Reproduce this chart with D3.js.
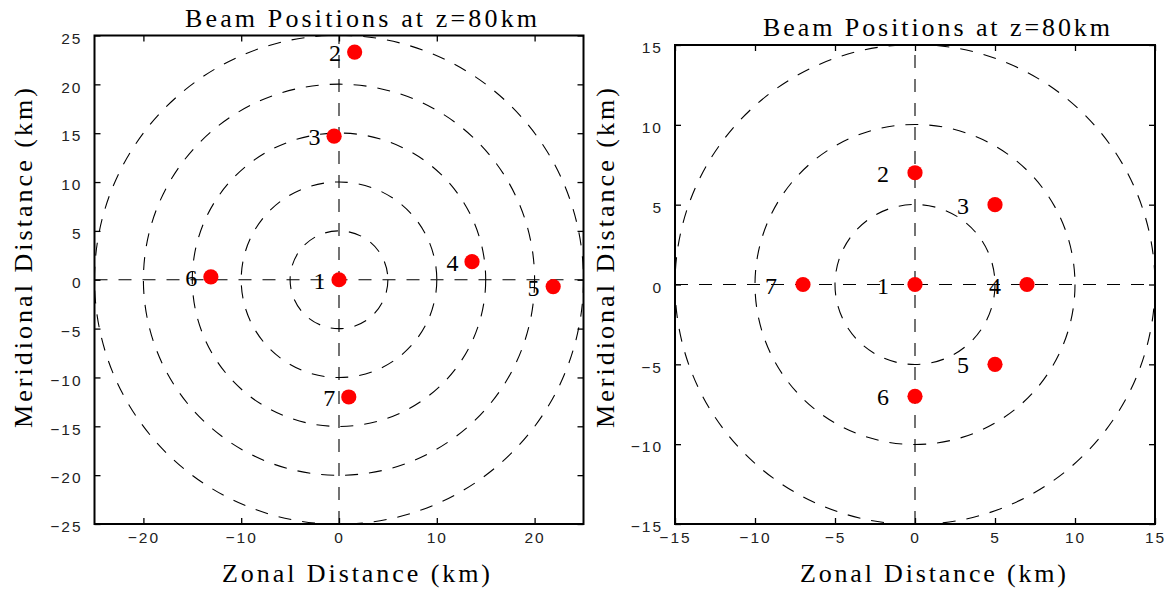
<!DOCTYPE html>
<html><head><meta charset="utf-8">
<script src="https://cdn.jsdelivr.net/npm/d3@7"></script>
<style>
body{margin:0;background:#fff;}
svg{display:block;}
</style></head>
<body>
<svg id="chart" width="1172" height="589"></svg>
<script>
// ----- data -----
const titleText = "Beam Positions at z=80km";
const xLabelText = "Zonal Distance (km)";
const yLabelText = "Meridional Distance (km)";

// left panel
const leftBeamIds = ["1","2","3","4","5","6","7"];
const leftBeamX = [0, 1.6, -0.5, 13.6, 21.9, -13.1, 1.0];
const leftBeamY = [0, 23.3, 14.7, 1.85, -0.7, 0.3, -12.0];
const leftRings = [5, 10, 15, 20, 25];
const leftXTicks = [-20, -10, 0, 10, 20];
const leftYTicks = [-25, -20, -15, -10, -5, 0, 5, 10, 15, 20, 25];
const leftExtent = [-25, 25];

// right panel
const rightBeamIds = ["1","2","3","4","5","6","7"];
const rightBeamX = [0, 0, 5, 7, 5, 0, -7];
const rightBeamY = [0, 7, 5, 0, -5, -7, 0];
const rightRings = [5, 10, 15];
const rightXTicks = [-15, -10, -5, 0, 5, 10, 15];
const rightYTicks = [-15, -10, -5, 0, 5, 10, 15];
const rightExtent = [-15, 15];

const labelOffset = 2; // km, label placed to the left of the beam

const svg = d3.select("#chart");
const serif = "'Liberation Serif','DejaVu Serif',serif";
const tickFont = "'Liberation Sans','DejaVu Sans',sans-serif";
const fmt = v => (v < 0 ? "\u2212" + Math.abs(v) : String(v));

function panel(cfg){
  const x = d3.scaleLinear().domain(cfg.extent).range([cfg.x0, cfg.x1]);
  const y = d3.scaleLinear().domain(cfg.extent).range([cfg.y1, cfg.y0]);
  const g = svg.append("g");
  const clipId = "clip" + cfg.id;
  g.append("clipPath").attr("id", clipId).append("rect")
    .attr("x", cfg.x0).attr("y", cfg.y0)
    .attr("width", cfg.x1 - cfg.x0).attr("height", cfg.y1 - cfg.y0);
  const plot = g.append("g").attr("clip-path", `url(#${clipId})`);
  const dash = "13,11";
  // rings
  plot.selectAll("circle.ring").data(cfg.rings).join("circle")
    .attr("class","ring")
    .attr("cx", x(0)).attr("cy", y(0))
    .attr("r", d => x(d) - x(0))
    .attr("fill","none").attr("stroke","#000").attr("stroke-width",1.1)
    .attr("stroke-dasharray", dash);
  // crosshair
  plot.append("line").attr("x1", x(cfg.extent[0])).attr("x2", x(cfg.extent[1]))
    .attr("y1", y(0)).attr("y2", y(0))
    .attr("stroke","#000").attr("stroke-width",1.1).attr("stroke-dasharray", dash);
  plot.append("line").attr("x1", x(0)).attr("x2", x(0))
    .attr("y1", y(cfg.extent[0])).attr("y2", y(cfg.extent[1]))
    .attr("stroke","#000").attr("stroke-width",1.1).attr("stroke-dasharray", dash);

  const pts = cfg.ids.map((id,i)=>({id, x: cfg.bx[i], y: cfg.by[i]}));
  // labels
  g.selectAll("text.beam").data(pts).join("text")
    .attr("class","beam")
    .attr("x", d => x(d.x - labelOffset))
    .attr("y", d => y(d.y) + 1)
    .attr("text-anchor","middle").attr("dominant-baseline","central")
    .attr("font-family", serif).attr("font-size", 24)
    .text(d => d.id);
  // dots
  g.selectAll("circle.beam").data(pts).join("circle")
    .attr("class","beam")
    .attr("cx", d => x(d.x)).attr("cy", d => y(d.y)).attr("r", 7.6)
    .attr("fill","#ff0000");

  // axes: inward ticks on all sides
  const tl = 6;
  const axB = g.append("g").attr("transform",`translate(0,${cfg.y1})`)
    .call(d3.axisBottom(x).tickValues(cfg.xt).tickSizeInner(-tl).tickSizeOuter(0).tickPadding(tl+10).tickFormat(fmt));
  const axT = g.append("g").attr("transform",`translate(0,${cfg.y0})`)
    .call(d3.axisTop(x).tickValues(cfg.xt).tickSizeInner(-tl).tickSizeOuter(0).tickFormat(""));
  const axL = g.append("g").attr("transform",`translate(${cfg.x0},0)`)
    .call(d3.axisLeft(y).tickValues(cfg.yt).tickSizeInner(-tl).tickSizeOuter(0).tickPadding(tl+8).tickFormat(fmt));
  const axR = g.append("g").attr("transform",`translate(${cfg.x1},0)`)
    .call(d3.axisRight(y).tickValues(cfg.yt).tickSizeInner(-tl).tickSizeOuter(0).tickFormat(""));
  [axB,axT,axL,axR].forEach(a=>{
    a.select(".domain").remove();
    a.selectAll(".tick line").attr("stroke","#000").attr("stroke-width",1.3);
    a.selectAll("text").attr("font-family", tickFont).attr("font-size",15.5)
      .attr("fill","#222").style("letter-spacing","2px");
  });
  axB.selectAll("text").attr("dy","0.2em");
  axL.selectAll("text").attr("dy","0.5em").attr("dx","2px");
  // frame
  g.append("rect").attr("x",cfg.x0).attr("y",cfg.y0)
    .attr("width",cfg.x1-cfg.x0).attr("height",cfg.y1-cfg.y0)
    .attr("fill","none").attr("stroke","#000").attr("stroke-width",2);

  // title & labels
  g.append("text").attr("x", cfg.titleX).attr("y", cfg.titleY)
    .attr("text-anchor","middle").attr("font-family",serif).attr("font-size",26)
    .attr("textLength", cfg.titleLen).attr("lengthAdjust","spacing")
    .text(titleText);
  g.append("text").attr("x", cfg.xlabX).attr("y", 582)
    .attr("text-anchor","middle").attr("font-family",serif).attr("font-size",26)
    .attr("textLength", cfg.xlabLen).attr("lengthAdjust","spacing")
    .text(xLabelText);
  g.append("text").attr("transform",`translate(${cfg.ylabX},${cfg.ylabY}) rotate(-90)`)
    .attr("text-anchor","middle").attr("font-family",serif).attr("font-size",26)
    .attr("textLength", 340).attr("lengthAdjust","spacing")
    .text(yLabelText);
}

panel({id:"L", extent:leftExtent, x0:94.5, x1:583.5, y0:35.5, y1:524,
  rings:leftRings, ids:leftBeamIds, bx:leftBeamX, by:leftBeamY,
  xt:leftXTicks, yt:leftYTicks,
  titleX:361, titleY:27, titleLen:352, xlabX:356, xlabLen:268, ylabX:32, ylabY:258});
panel({id:"R", extent:rightExtent, x0:675, x1:1155, y0:45, y1:524,
  rings:rightRings, ids:rightBeamIds, bx:rightBeamX, by:rightBeamY,
  xt:rightXTicks, yt:rightYTicks,
  titleX:936.5, titleY:36, titleLen:347, xlabX:933, xlabLen:266, ylabX:614, ylabY:258});
</script>
</body></html>
